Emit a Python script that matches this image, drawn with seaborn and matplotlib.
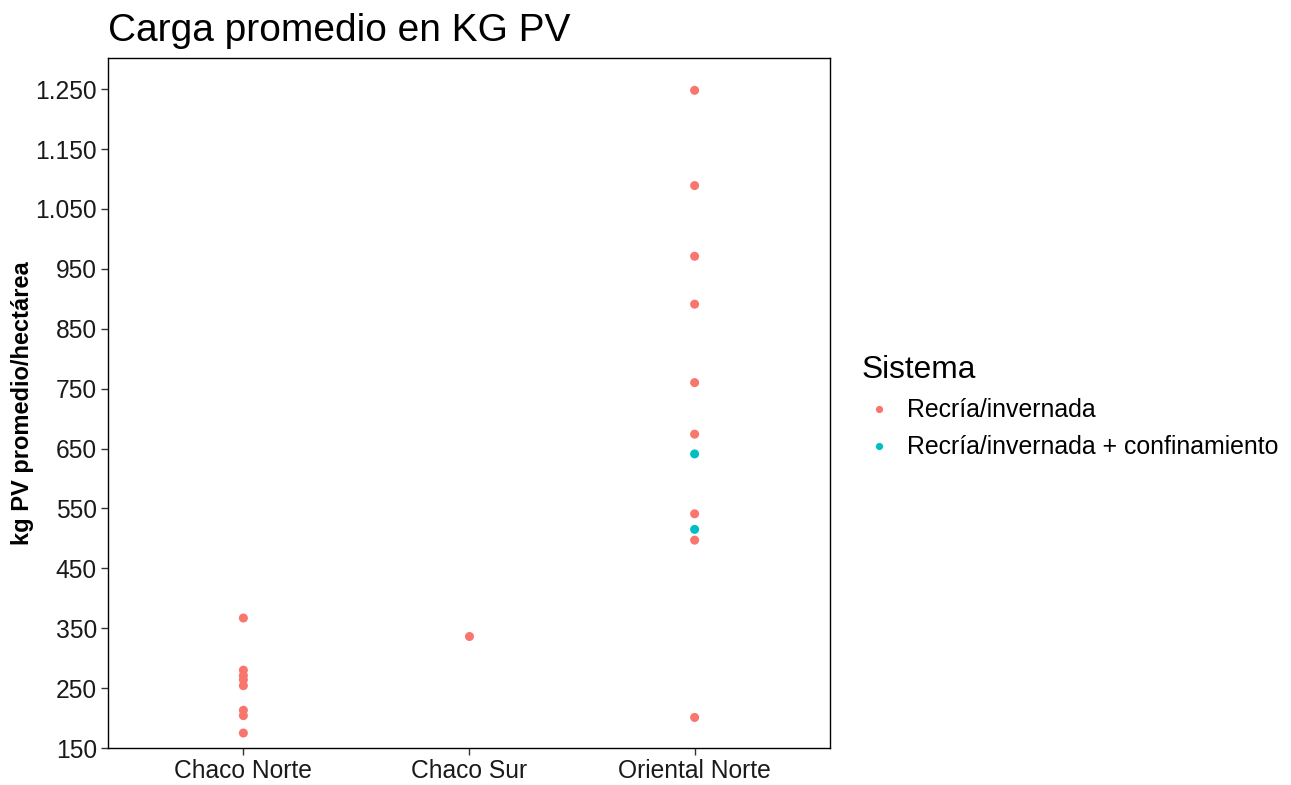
import matplotlib
matplotlib.use("Agg")
import matplotlib.pyplot as plt
import seaborn as sns
import pandas as pd
from matplotlib.ticker import FuncFormatter, FixedLocator

regiones = ["Chaco Norte"] * 8 + ["Chaco Sur"] + ["Oriental Norte"] * 11
valores = [367, 280, 271, 264, 254, 213, 204, 175,
           337,
           1248, 1089, 971, 891, 760, 674, 641, 541, 515, 497, 201]
sistemas = (["Recría/invernada"] * 9 +
            ["Recría/invernada"] * 6 + ["Recría/invernada + confinamiento"] +
            ["Recría/invernada", "Recría/invernada + confinamiento"] +
            ["Recría/invernada"] * 2)
orden_regiones = ["Chaco Norte", "Chaco Sur", "Oriental Norte"]
orden_sistemas = ["Recría/invernada", "Recría/invernada + confinamiento"]
colores = ["#F8766D", "#00BFC4"]
yticks = [150, 250, 350, 450, 550, 650, 750, 850, 950, 1050, 1150, 1250]

df = pd.DataFrame({"Region": regiones, "Carga": valores, "Sistema": sistemas})

sns.set_style("white")
plt.rcParams["font.family"] = ["Liberation Sans", "DejaVu Sans"]
plt.rcParams["text.color"] = "black"

fig = plt.figure(figsize=(12.91, 7.85), dpi=100)
ax = fig.add_axes([108 / 1291, 1 - 748 / 785, (830 - 108) / 1291, (748 - 58) / 785])

sns.stripplot(data=df, x="Region", y="Carga", hue="Sistema", order=orden_regiones,
              hue_order=orden_sistemas, palette=colores, jitter=False, dodge=False,
              size=6.5, linewidth=0, ax=ax)

ax.set_xlim(-0.6, 2.6)
ax.set_ylim(150, 1302)
ax.yaxis.set_major_locator(FixedLocator(yticks))
ax.yaxis.set_major_formatter(FuncFormatter(lambda v, p: f"{int(v):,}".replace(",", ".")))
ax.tick_params(axis="both", which="major", length=5, width=1, color="#333333",
               labelsize=17.7, labelcolor="#1a1a1a", direction="out", pad=3,
               left=True, bottom=True)
for s in ax.spines.values():
    s.set_visible(True)
    s.set_color("black")
    s.set_linewidth(1.0)
ax.set_xlabel("")
ax.set_ylabel("kg PV promedio/hectárea", fontsize=17, fontweight="bold", color="black")
ax.yaxis.set_label_coords(-0.103, 0.5)
ax.set_title("Carga promedio en KG PV", fontsize=28, loc="left", pad=12, x=0.0,
             color="black")

handles, labels = ax.get_legend_handles_labels()
if ax.legend_:
    ax.legend_.remove()
leg = fig.legend(handles, labels, title="Sistema", loc="upper left",
                 bbox_to_anchor=(839 / 1291, 1 - 333 / 785), frameon=False,
                 fontsize=17.9, title_fontsize=22.8, handletextpad=0.4,
                 labelspacing=0.52, markerscale=0.8, handlelength=1.45)
leg._legend_box.align = "left"
for t in leg.get_texts():
    t.set_color("black")
leg.get_title().set_color("black")

fig.savefig("out.png", dpi=100)
